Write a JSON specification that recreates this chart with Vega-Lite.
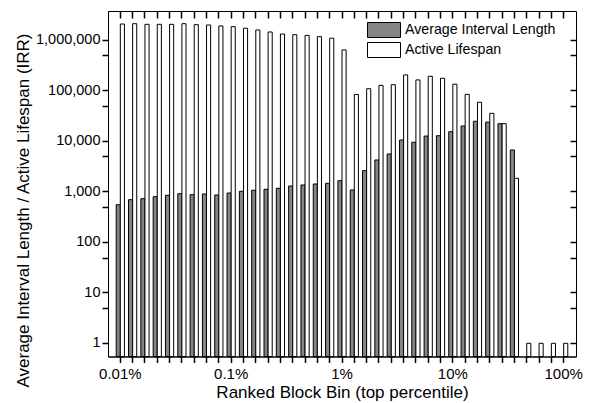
{
  "$schema": "https://vega.github.io/schema/vega-lite/v6.json",
  "width": 468,
  "height": 345.5,
  "autosize": "none",
  "padding": {"left": 108, "top": 11, "right": 14, "bottom": 46.5},
  "background": "white",
  "config": {
    "font": "Liberation Sans",
    "view": {"stroke": "black", "strokeWidth": 1},
    "axis": {
      "domainColor": "black", "labelColor": "black", "titleColor": "black",
      "grid": false, "labelFont": "Liberation Sans", "titleFont": "Liberation Sans",
      "titleFontWeight": "normal", "labelFontSize": 14.5, "titleFontSize": 17,
      "domainWidth": 1, "labelOverlap": false
    }
  },
  "datasets": {
    "avg": [
      {"bin": 0, "series": "Average Interval Length", "value": 555},
      {"bin": 1, "series": "Average Interval Length", "value": 698},
      {"bin": 2, "series": "Average Interval Length", "value": 730},
      {"bin": 3, "series": "Average Interval Length", "value": 800},
      {"bin": 4, "series": "Average Interval Length", "value": 852},
      {"bin": 5, "series": "Average Interval Length", "value": 917},
      {"bin": 6, "series": "Average Interval Length", "value": 877},
      {"bin": 7, "series": "Average Interval Length", "value": 905},
      {"bin": 8, "series": "Average Interval Length", "value": 865},
      {"bin": 9, "series": "Average Interval Length", "value": 946},
      {"bin": 10, "series": "Average Interval Length", "value": 1024},
      {"bin": 11, "series": "Average Interval Length", "value": 1071},
      {"bin": 12, "series": "Average Interval Length", "value": 1121},
      {"bin": 13, "series": "Average Interval Length", "value": 1173},
      {"bin": 14, "series": "Average Interval Length", "value": 1303},
      {"bin": 15, "series": "Average Interval Length", "value": 1364},
      {"bin": 16, "series": "Average Interval Length", "value": 1427},
      {"bin": 17, "series": "Average Interval Length", "value": 1472},
      {"bin": 18, "series": "Average Interval Length", "value": 1660},
      {"bin": 19, "series": "Average Interval Length", "value": 1086},
      {"bin": 20, "series": "Average Interval Length", "value": 2618},
      {"bin": 21, "series": "Average Interval Length", "value": 4264},
      {"bin": 22, "series": "Average Interval Length", "value": 5610},
      {"bin": 23, "series": "Average Interval Length", "value": 10600},
      {"bin": 24, "series": "Average Interval Length", "value": 9550},
      {"bin": 25, "series": "Average Interval Length", "value": 12700},
      {"bin": 26, "series": "Average Interval Length", "value": 12900},
      {"bin": 27, "series": "Average Interval Length", "value": 15500},
      {"bin": 28, "series": "Average Interval Length", "value": 20100},
      {"bin": 29, "series": "Average Interval Length", "value": 24900},
      {"bin": 30, "series": "Average Interval Length", "value": 24000},
      {"bin": 31, "series": "Average Interval Length", "value": 22300},
      {"bin": 32, "series": "Average Interval Length", "value": 6730}
    ],
    "life": [
      {"bin": 0, "series": "Active Lifespan", "value": 2100000},
      {"bin": 1, "series": "Active Lifespan", "value": 2130000},
      {"bin": 2, "series": "Active Lifespan", "value": 2070000},
      {"bin": 3, "series": "Active Lifespan", "value": 2070000},
      {"bin": 4, "series": "Active Lifespan", "value": 2070000},
      {"bin": 5, "series": "Active Lifespan", "value": 2130000},
      {"bin": 6, "series": "Active Lifespan", "value": 2040000},
      {"bin": 7, "series": "Active Lifespan", "value": 2010000},
      {"bin": 8, "series": "Active Lifespan", "value": 1920000},
      {"bin": 9, "series": "Active Lifespan", "value": 1860000},
      {"bin": 10, "series": "Active Lifespan", "value": 1730000},
      {"bin": 11, "series": "Active Lifespan", "value": 1600000},
      {"bin": 12, "series": "Active Lifespan", "value": 1460000},
      {"bin": 13, "series": "Active Lifespan", "value": 1330000},
      {"bin": 14, "series": "Active Lifespan", "value": 1290000},
      {"bin": 15, "series": "Active Lifespan", "value": 1250000},
      {"bin": 16, "series": "Active Lifespan", "value": 1180000},
      {"bin": 17, "series": "Active Lifespan", "value": 1100000},
      {"bin": 18, "series": "Active Lifespan", "value": 643000},
      {"bin": 19, "series": "Active Lifespan", "value": 84500},
      {"bin": 20, "series": "Active Lifespan", "value": 110000},
      {"bin": 21, "series": "Active Lifespan", "value": 128000},
      {"bin": 22, "series": "Active Lifespan", "value": 132000},
      {"bin": 23, "series": "Active Lifespan", "value": 206000},
      {"bin": 24, "series": "Active Lifespan", "value": 164000},
      {"bin": 25, "series": "Active Lifespan", "value": 194000},
      {"bin": 26, "series": "Active Lifespan", "value": 177000},
      {"bin": 27, "series": "Active Lifespan", "value": 135000},
      {"bin": 28, "series": "Active Lifespan", "value": 85000},
      {"bin": 29, "series": "Active Lifespan", "value": 59200},
      {"bin": 30, "series": "Active Lifespan", "value": 35800},
      {"bin": 31, "series": "Active Lifespan", "value": 22300},
      {"bin": 32, "series": "Active Lifespan", "value": 1850},
      {"bin": 33, "series": "Active Lifespan", "value": 1},
      {"bin": 34, "series": "Active Lifespan", "value": 1},
      {"bin": 35, "series": "Active Lifespan", "value": 1},
      {"bin": 36, "series": "Active Lifespan", "value": 1}
    ]
  },
  "resolve": {"axis": {"x": "independent", "y": "independent"}},
  "layer": [
    {
      "data": {"name": "avg"},
      "mark": {"type": "bar", "stroke": "black", "strokeWidth": 1},
      "encoding": {
        "x": {
          "field": "bin", "type": "ordinal",
          "scale": {"domain": [0,1,2,3,4,5,6,7,8,9,10,11,12,13,14,15,16,17,18,19,20,21,22,23,24,25,26,27,28,29,30,31,32,33,34,35,36], "paddingInner": 0.3333, "paddingOuter": 0.6667},
          "axis": {
            "orient": "bottom", "labelAngle": 0, "ticks": true, "tickSize": 6, "tickColor": "#000000", "tickWidth": 1.5, "labelPadding": 4, "labelFontSize": 15,
            "labelExpr": "datum.value == 0 ? '0.01%' : datum.value == 9 ? '0.1%' : datum.value == 18 ? '1%' : datum.value == 27 ? '10%' : datum.value == 36 ? '100%' : ''",
            "title": "Ranked Block Bin (top percentile)", "titleY": 41, "titleBaseline": "alphabetic"
          }
        },
        "xOffset": {"field": "series", "type": "nominal", "scale": {"domain": ["Average Interval Length", "Active Lifespan"], "paddingInner": 0, "paddingOuter": 0}},
        "y": {
          "field": "value", "type": "quantitative",
          "scale": {"type": "log", "domain": [0.548, 3800000], "nice": false},
          "axis": {
            "orient": "left", "ticks": true, "tickColor": "#000000", "tickWidth": 1.5, "tickSize": 6,
            "values": [1.02, 5, 10.2, 50, 102, 500, 1020, 5000, 10200, 50000, 102000, 500000, 1020000],
            "labelExpr": "abs(log(datum.value)/LN10 - round(log(datum.value)/LN10)) < 0.01 ? format(pow(10, round(log(datum.value)/LN10)), ',') : ''",
            "labelPadding": 2,
            "title": "Average Interval Length / Active Lifespan (IRR)",
            "titleX": -80, "titleY": 199, "titleBaseline": "alphabetic", "titleAlign": "center", "titleAngle": -90
          }
        },
        "y2": {"datum": 0.548},
        "color": {
          "field": "series", "type": "nominal",
          "scale": {"domain": ["Average Interval Length", "Active Lifespan"], "range": ["#858585", "white"]},
          "legend": {
            "title": null, "orient": "none", "legendX": 268, "legendY": 11,
            "symbolType": "M-2.2,-1H2.2V1H-2.2Z", "symbolSize": 225,
            "symbolStrokeColor": "black", "symbolStrokeWidth": 1,
            "labelFontSize": 14.2, "labelFont": "Liberation Sans", "labelColor": "black",
            "labelOffset": 13, "rowPadding": 0, "padding": 0
          }
        }
      }
    },
    {
      "data": {"name": "life"},
      "mark": {"type": "bar", "stroke": "black", "strokeWidth": 1},
      "encoding": {
        "x": {
          "field": "bin", "type": "ordinal",
          "axis": {"orient": "top", "labels": false, "domain": false, "offset": -7, "ticks": true, "tickColor": "#000000", "tickWidth": 1.5, "tickSize": 7, "title": null}
        },
        "xOffset": {"field": "series", "type": "nominal"},
        "y": {
          "field": "value", "type": "quantitative",
          "axis": {
            "orient": "right", "labels": false, "title": null, "domain": false, "offset": -6,
            "ticks": true, "tickColor": "#000000", "tickWidth": 1.5, "tickSize": 6,
            "values": [1.02, 5, 10.2, 50, 102, 500, 1020, 5000, 10200, 50000, 102000, 500000, 1020000]
          }
        },
        "y2": {"datum": 0.548},
        "color": {"field": "series", "type": "nominal"}
      }
    }
  ]
}
